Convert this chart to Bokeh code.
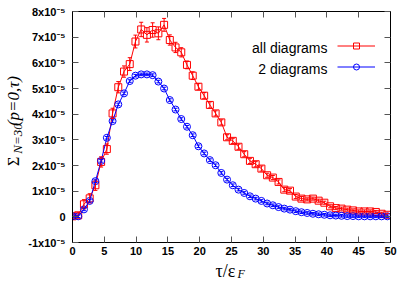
import math
from bokeh.plotting import figure
from bokeh.layouts import column, row
from bokeh.models import (Range1d, LinearAxis, FixedTicker, Label, Legend, LegendItem,
                          Whisker, ColumnDataSource, TeeHead)
from bokeh.core.properties import value
from bokeh.embed import file_html
from bokeh.resources import INLINE

# tau / eps_F
tau = [0.0, 0.9, 1.8, 2.7, 3.6, 4.5, 5.4, 6.3, 7.2, 8.1,
       9.0, 9.9, 10.8, 11.7, 12.6, 13.5, 14.4, 15.3, 16.2, 17.1,
       18.0, 18.9, 19.8, 20.7, 21.6, 22.5, 23.4, 24.3, 25.2, 26.1,
       27.0, 27.9, 28.8, 29.7, 30.6, 31.5, 32.4, 33.3, 34.2, 35.1,
       36.0, 36.9, 37.8, 38.7, 39.6, 40.5, 41.4, 42.3, 43.2, 44.1,
       45.0, 45.9, 46.8, 47.7, 48.6, 49.5]

# Sigma values in units of 1e-5
all_diagrams = [0.02, 0.06, 0.49, 0.72, 1.23, 2.14, 2.64, 4.03, 5.05, 5.66,
                5.95, 6.83, 7.30, 7.09, 7.28, 7.15, 7.48, 6.89, 6.60, 6.41,
                5.92, 5.50, 5.07, 4.72, 4.36, 4.03, 3.68, 3.10, 2.96, 2.73,
                2.44, 2.18, 2.05, 1.88, 1.62, 1.53, 1.36, 1.06, 1.02, 0.79,
                0.71, 0.68, 0.71, 0.63, 0.55, 0.41, 0.34, 0.32, 0.28, 0.25,
                0.21, 0.21, 0.21, 0.19, 0.12, 0.08]
all_err = [0.08, 0.10, 0.18, 0.18, 0.20, 0.20, 0.20, 0.20, 0.22, 0.22,
           0.25, 0.25, 0.28, 0.28, 0.28, 0.25, 0.25, 0.20, 0.20, 0.18,
           0.15, 0.15, 0.12, 0.12, 0.12, 0.10, 0.10, 0.10, 0.10, 0.10,
           0.10, 0.10, 0.10, 0.10, 0.08, 0.08, 0.08, 0.08, 0.08, 0.08,
           0.08, 0.06, 0.06, 0.06, 0.06, 0.06, 0.06, 0.06, 0.06, 0.06,
           0.06, 0.06, 0.06, 0.06, 0.06, 0.06]
two_diagrams = [0.02, 0.02, 0.29, 0.62, 1.39, 2.18, 3.08, 3.73, 4.38, 4.81,
                5.29, 5.50, 5.55, 5.55, 5.52, 5.27, 5.00, 4.55, 4.18, 3.81,
                3.51, 3.18, 2.75, 2.47, 2.21, 2.01, 1.71, 1.45, 1.23, 1.06,
                0.93, 0.80, 0.71, 0.62, 0.52, 0.45, 0.38, 0.32, 0.28, 0.22,
                0.18, 0.15, 0.12, 0.10, 0.08, 0.06, 0.05, 0.04, 0.03, 0.03,
                0.02, 0.02, 0.02, 0.02, 0.02, 0.02]
two_err = [0.05] * len(tau)

x_ticks = [0, 5, 10, 15, 20, 25, 30, 35, 40, 45, 50]
y_ticks = [-1, 0, 1, 2, 3, 4, 5, 6, 7, 8]
y_tick_labels = ["-1x10\u207b\u2075", "0", "1x10\u207b\u2075", "2x10\u207b\u2075", "3x10\u207b\u2075",
                 "4x10\u207b\u2075", "5x10\u207b\u2075", "6x10\u207b\u2075", "7x10\u207b\u2075",
                 "8x10\u207b\u2075"]
series_names = ["all diagrams", "2 diagrams"]

# axis titles, split into pieces (subscripts are separate pieces)
y_title_parts = ["\u03a3", "N=30", "(p=0,\u03c4)"]
x_title_parts = ["\u03c4/\u03b5", "F"]

RED = "#ff0000"
BLUE = "#0000ff"
TICK_COLOR = "#555555"
FONT = "Liberation Sans, Noto Sans, DejaVu Sans"

TOTAL_W, TOTAL_H = 403, 280
YLAB_W = 25
MAIN_H = 260

# ---------------- main plot ----------------
p = figure(width=TOTAL_W - YLAB_W, height=MAIN_H, output_backend="svg", toolbar_location=None,
           x_range=Range1d(0, 50), y_range=Range1d(-1, 8),
           min_border_left=70 - YLAB_W, min_border_right=13, min_border_top=11,
           min_border_bottom=MAIN_H - 242)
p.grid.visible = False
p.outline_line_color = "black"
p.outline_line_width = 1
p.background_fill_color = "white"
p.border_fill_color = "white"


def style_axis(ax, show_labels=True, standoff=6):
    ax.major_tick_in = 6
    ax.major_tick_out = 0
    ax.minor_tick_in = 0
    ax.minor_tick_out = 0
    ax.major_tick_line_color = TICK_COLOR
    ax.axis_line_color = "black"
    ax.axis_line_width = 1
    if show_labels:
        ax.major_label_text_font = FONT
        ax.major_label_text_font_style = "bold"
        ax.major_label_text_font_size = "11px"
        ax.major_label_text_color = "black"
        ax.major_label_standoff = standoff
    else:
        ax.major_label_text_font_size = "0px"
        ax.major_label_text_color = None
        ax.major_label_text_alpha = 0
        ax.major_label_standoff = 0


xax = p.xaxis[0]
xax.ticker = FixedTicker(ticks=x_ticks)
style_axis(xax, standoff=4)
yax = p.yaxis[0]
yax.ticker = FixedTicker(ticks=y_ticks)
yax.major_label_overrides = {t: l for t, l in zip(y_ticks, y_tick_labels)}
style_axis(yax, standoff=7)

# mirrored tick marks on top and right (no labels)
top = LinearAxis(ticker=FixedTicker(ticks=x_ticks))
style_axis(top, False)
p.add_layout(top, "above")
right = LinearAxis(ticker=FixedTicker(ticks=y_ticks))
style_axis(right, False)
p.add_layout(right, "right")

src_all = ColumnDataSource(dict(x=tau, y=all_diagrams,
                                lo=[v - e for v, e in zip(all_diagrams, all_err)],
                                hi=[v + e for v, e in zip(all_diagrams, all_err)]))
src_two = ColumnDataSource(dict(x=tau, y=two_diagrams,
                                lo=[v - e for v, e in zip(two_diagrams, two_err)],
                                hi=[v + e for v, e in zip(two_diagrams, two_err)]))

w_all = Whisker(source=src_all, base="x", lower="lo", upper="hi", line_color=RED, line_width=1,
                upper_head=TeeHead(size=4, line_color=RED, line_width=1),
                lower_head=TeeHead(size=4, line_color=RED, line_width=1), level="glyph")
p.add_layout(w_all)
l_all = p.line("x", "y", source=src_all, line_color=RED, line_width=1)
s_all = p.scatter("x", "y", source=src_all, marker="square", size=7, line_color=RED,
                  fill_alpha=0, line_width=1)

w_two = Whisker(source=src_two, base="x", lower="lo", upper="hi", line_color=BLUE, line_width=1,
                upper_head=TeeHead(size=4, line_color=BLUE, line_width=1),
                lower_head=TeeHead(size=4, line_color=BLUE, line_width=1), level="glyph")
p.add_layout(w_two)
l_two = p.line("x", "y", source=src_two, line_color=BLUE, line_width=1)
s_two = p.scatter("x", "y", source=src_two, marker="circle", size=7, line_color=BLUE,
                  fill_alpha=0, line_width=1)

# legend: text right-aligned, sample to the right (gnuplot style)
legend = Legend(items=[LegendItem(label=" ", renderers=[l_all, s_all]),
                       LegendItem(label=" ", renderers=[l_two, s_two])],
                location=(265, 168), orientation="vertical",
                glyph_width=38, glyph_height=15, label_standoff=0, label_width=0,
                label_text_font_size="1px", padding=0, spacing=6, margin=0,
                border_line_alpha=0, background_fill_alpha=0)
p.add_layout(legend)
for name, yv in zip(series_names, [6.59, 5.77]):
    p.add_layout(Label(x=40.1, y=yv, text=name, text_align="right", text_baseline="middle",
                       text_font=FONT, text_font_size="14px", text_color="black"))


def text_panel(w, h, y_top):
    f = figure(width=w, height=h, output_backend="svg", toolbar_location=None,
               x_range=Range1d(0, w), y_range=Range1d(y_top + h, y_top),
               x_axis_type=None, y_axis_type=None,
               min_border_left=0, min_border_right=0, min_border_top=0, min_border_bottom=0)
    f.grid.visible = False
    f.outline_line_color = None
    f.background_fill_color = "white"
    f.border_fill_color = "white"
    return f


SERIF = value("Liberation Serif")

# ---------------- y title panel (pixel coordinates of the picture) ----------------
ylab = text_panel(YLAB_W, MAIN_H, 0)
ylab.text(x=[13], y=[174], text=[y_title_parts[0]], angle=math.pi / 2,
          text_align="left", text_baseline="alphabetic", text_font=SERIF,
          text_font_size="16px", text_color="black")
ylab.text(x=[17], y=[160], text=[y_title_parts[1]], angle=math.pi / 2,
          text_align="left", text_baseline="alphabetic", text_font=SERIF,
          text_font_style="italic", text_font_size="13px", text_color="black")
ylab.text(x=[13], y=[129], text=[y_title_parts[2]], angle=math.pi / 2,
          text_align="left", text_baseline="alphabetic", text_font=SERIF,
          text_font_style="italic", text_font_size="17px", text_color="black")

# ---------------- x title panel ----------------
xlab = text_panel(TOTAL_W, TOTAL_H - MAIN_H, MAIN_H)
xlab.text(x=[215], y=[270], text=[x_title_parts[0]], text_align="left",
          text_baseline="alphabetic", text_font=SERIF,
          text_font_size="18px", text_color="black")
xlab.text(x=[237], y=[273], text=[x_title_parts[1]], text_align="left",
          text_baseline="alphabetic", text_font=SERIF,
          text_font_style="italic", text_font_size="12px", text_color="black")

layout = column(row(ylab, p, spacing=0), xlab, spacing=0)
open("out.html", "w").write(file_html(layout, INLINE))
